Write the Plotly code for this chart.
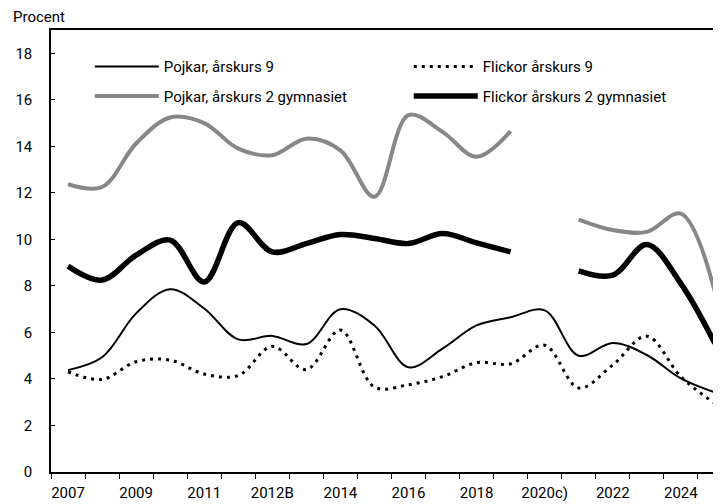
import plotly.graph_objects as go

# Categories on the x axis (every other one is labelled)
years = ["2007", "2008", "2009", "2010", "2011", "2012", "2012B", "2013", "2014",
         "2015", "2016", "2017", "2018", "2019", "2020c)", "2021", "2022", "2023",
         "2024", "2025"]

pojkar_ak9 = [4.38, 4.93, 6.82, 7.86, 7.03, 5.7, 5.85, 5.5, 7.0, 6.3, 4.5, 5.3,
              6.3, 6.65, 6.95, 5.0, 5.55, 5.03, 4.02, 3.42]
flickor_ak9 = [4.31, 3.98, 4.74, 4.81, 4.21, 4.15, 5.4, 4.4, 6.1, 3.65, 3.75, 4.1,
               4.7, 4.65, 5.45, 3.61, 4.6, 5.84, 4.1, 2.95]
pojkar_gy2 = [12.37, 12.25, 14.12, 15.24, 15.0, 13.9, 13.62, 14.33, 13.83, 11.83,
              15.34, 14.62, 13.55, 14.65, None, 10.85, 10.4, 10.32, 11.11, 7.75]
flickor_gy2 = [8.85, 8.25, 9.32, 9.97, 8.17, 10.72, 9.46, 9.82, 10.21, 10.04, 9.82,
               10.25, 9.85, 9.46, None, 8.65, 8.46, 9.78, 8.1, 5.53]

y_ticks = list(range(0, 19, 2))

FONT = "Roboto, Liberation Sans, sans-serif"

idx = list(range(len(years)))
label_pos = idx[::2]
label_txt = years[::2]
bounds = [i - 0.5 for i in range(len(years) + 1)]

fig = go.Figure()

# name, values, line style, legend (pojkar left column, flickor right column)
series = [
    ("Pojkar, årskurs 9", pojkar_ak9, dict(color="black", width=2), "legend"),
    ("Flickor årskurs 9", flickor_ak9, dict(color="black", width=3, dash="3px,5px"), "legend2"),
    ("Pojkar, årskurs 2 gymnasiet", pojkar_gy2, dict(color="#878787", width=4), "legend"),
    ("Flickor årskurs 2 gymnasiet", flickor_gy2, dict(color="black", width=5.5), "legend2"),
]
for name, vals, line, leg in series:
    fig.add_trace(go.Scatter(
        x=idx, y=vals, name=name, mode="lines",
        line=dict(shape="spline", smoothing=1, **line),
        connectgaps=False, legend=leg, legendgroup=name,
    ))

# the page is offset by the 8px body margin, so the plot is laid out 8px up/left
x_range = [-0.5, 19.18]
leg_style = dict(orientation="v", yanchor="top", xanchor="left", itemwidth=64,
                 bgcolor="rgba(0,0,0,0)", font=dict(size=15), tracegroupgap=7)

fig.update_layout(
    width=721, height=504,
    margin=dict(l=43, r=8, t=22, b=40),
    plot_bgcolor="white", paper_bgcolor="white",
    font=dict(family=FONT, size=15, color="black"),
    showlegend=True,
    legend=dict(x=0.058, y=0.954, **leg_style),
    legend2=dict(x=0.534, y=0.954, **leg_style),
    xaxis=dict(
        range=x_range, tickmode="array", tickvals=label_pos, ticktext=label_txt,
        ticks="", showgrid=False, zeroline=False,
        showline=True, linecolor="black", linewidth=1.5, mirror=True,
        ticklabelstandoff=6,
        minor=dict(tickmode="array", tickvals=bounds, ticks="outside",
                   ticklen=5, tickwidth=1.2, tickcolor="black", showgrid=False),
    ),
    xaxis2=dict(
        range=x_range, overlaying="x", anchor="y", side="bottom",
        tickmode="array", tickvals=bounds, ticks="inside", ticklen=5,
        tickwidth=1.2, tickcolor="black", showticklabels=False,
        showgrid=False, zeroline=False, showline=False,
    ),
    yaxis=dict(
        range=[0, 19], tickmode="array", tickvals=y_ticks,
        ticks="inside", ticklen=4, tickwidth=1.2, tickcolor="black",
        showgrid=False, zeroline=False,
        showline=True, linecolor="black", linewidth=1.5,
        ticklabelstandoff=14,
    ),
    annotations=[dict(
        text="Procent", xref="paper", yref="paper", x=-0.06, y=1.0,
        xanchor="left", yanchor="bottom", yshift=2, showarrow=False,
        font=dict(size=15),
    )],
)

fig.write_html("out.html")
